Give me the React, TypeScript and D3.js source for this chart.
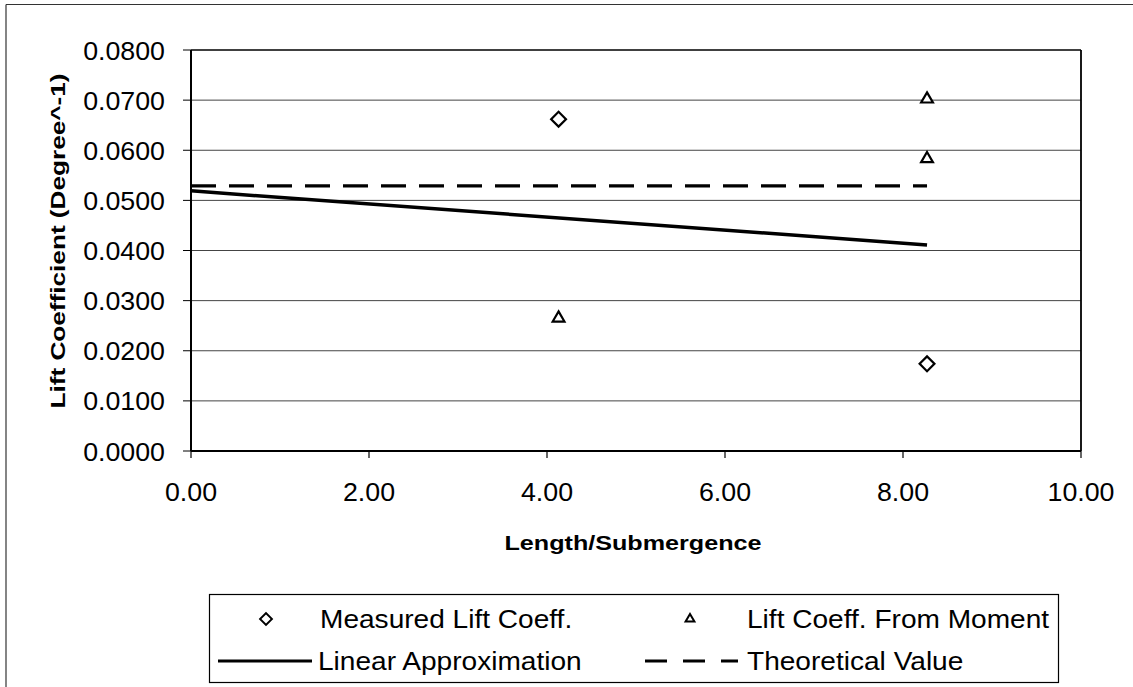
import { useEffect } from 'react';
import * as d3 from 'd3';

// values
const xTicks = [0, 2, 4, 6, 8, 10];
const yTicks = [0, 0.01, 0.02, 0.03, 0.04, 0.05, 0.06, 0.07, 0.08];
const measuredX = [4.13, 8.27];
const measuredY = [0.0662, 0.0174];
const momentX = [4.13, 8.27, 8.27];
const momentY = [0.0265, 0.0702, 0.0583];
const linearX = [0, 8.27];
const linearY = [0.0519, 0.0411];
const theoryX = [0, 8.27];
const theoryY = [0.0529, 0.0529];

const W = 1133;
const H = 687;
const FONT = '"Liberation Sans", Arial, sans-serif';

function T({ x, y, anchor = 'start', size = 26, sx = 1.03, children }:
  { x: number; y: number; anchor?: string; size?: number; sx?: number; children: string }) {
  return (
    <text transform={`translate(${x},${y}) scale(${sx},1)`} textAnchor={anchor} fontSize={size} fontFamily={FONT} fill="#000">
      {children}
    </text>
  );
}

export default function App() {
  useEffect(() => {
    document.body.style.margin = '0';
  }, []);

  const x = d3.scaleLinear().domain([0, 10]).range([191, 1081]);
  const y = d3.scaleLinear().domain([0, 0.08]).range([451, 50]);

  const pts = (xs: number[], ys: number[]) => xs.map((v, i) => [v, ys[i]] as [number, number]);
  const line = d3.line<[number, number]>().x((d) => x(d[0])).y((d) => y(d[1]));

  const diamond = d3.symbol().type(d3.symbolSquare).size(110)()!;
  const triangle = d3.symbol().type(d3.symbolTriangle).size(60)()!;
  const triangleSmall = d3.symbol().type(d3.symbolTriangle).size(34)()!;

  const [x0, x1] = x.range();
  const [yb, yt] = y.range();

  return (
    <svg width={W} height={H} style={{ display: 'block', background: '#fff' }}>
      {/* outer chart border (left and top visible) */}
      <line x1={6} y1={4.5} x2={W} y2={4.5} stroke="#333" strokeWidth={1.2} />
      <line x1={6} y1={4.5} x2={6} y2={H} stroke="#333" strokeWidth={1.2} />

      {/* gridlines */}
      {yTicks.slice(1, -1).map((t) => (
        <line key={t} x1={x0} x2={x1} y1={y(t)} y2={y(t)} stroke="#444" strokeWidth={1} />
      ))}

      {/* plot frame */}
      <line x1={x0} x2={x1} y1={yt} y2={yt} stroke="#000" strokeWidth={1.5} />
      <line x1={x1} x2={x1} y1={yt} y2={yb} stroke="#000" strokeWidth={1.8} />
      <line x1={x0} x2={x0} y1={yt} y2={yb} stroke="#000" strokeWidth={2} />
      <line x1={x0} x2={x1} y1={yb} y2={yb} stroke="#000" strokeWidth={2} />

      {/* y ticks + labels */}
      {yTicks.map((t) => (
        <g key={t}>
          <line x1={x0 - 8} x2={x0} y1={y(t)} y2={y(t)} stroke="#000" strokeWidth={1} />
          <T x={165} y={y(t) + 9.5} anchor="end">{d3.format('.4f')(t)}</T>
        </g>
      ))}

      {/* x ticks + labels */}
      {xTicks.map((t) => (
        <g key={t}>
          <line x1={x(t)} x2={x(t)} y1={yb} y2={yb + 7} stroke="#000" strokeWidth={1.2} />
          <T x={x(t)} y={501} anchor="middle">{d3.format('.2f')(t)}</T>
        </g>
      ))}

      {/* axis titles */}
      <text x={633} y={550} textAnchor="middle" fontSize={21} fontWeight="bold" fontFamily={FONT}
        textLength={257} lengthAdjust="spacingAndGlyphs">Length/Submergence</text>
      <text transform="translate(65,241) rotate(-90)" textAnchor="middle" fontSize={21} fontWeight="bold" fontFamily={FONT}
        textLength={335} lengthAdjust="spacingAndGlyphs">Lift Coefficient (Degree^-1)</text>

      {/* series */}
      <path d={line(pts(theoryX, theoryY))!} fill="none" stroke="#000" strokeWidth={3.2} strokeDasharray="25,13" />
      <path d={line(pts(linearX, linearY))!} fill="none" stroke="#000" strokeWidth={3.5} />
      {pts(measuredX, measuredY).map((d, i) => (
        <path key={`m${i}`} d={diamond} transform={`translate(${x(d[0])},${y(d[1])}) rotate(45)`} fill="#fff" stroke="#000" strokeWidth={2.2} />
      ))}
      {pts(momentX, momentY).map((d, i) => (
        <path key={`t${i}`} d={triangle} transform={`translate(${x(d[0])},${y(d[1])})`} fill="#fff" stroke="#000" strokeWidth={2.2} />
      ))}

      {/* legend */}
      <rect x={209.5} y={594.5} width={849} height={88} fill="#fff" stroke="#000" strokeWidth={1.2} />
      <path d={diamond} transform="translate(266,619) rotate(45) scale(0.8)" fill="#fff" stroke="#000" strokeWidth={2.4} />
      <T x={320} y={628} sx={1.08}>Measured Lift Coeff.</T>
      <path d={triangleSmall} transform="translate(690,619)" fill="#fff" stroke="#000" strokeWidth={2} />
      <T x={747} y={628} sx={1.08}>Lift Coeff. From Moment</T>
      <line x1={218} x2={312} y1={661} y2={661} stroke="#000" strokeWidth={3} />
      <T x={318} y={670} sx={1.08}>Linear Approximation</T>
      <line x1={645} x2={738} y1={661} y2={661} stroke="#000" strokeWidth={3} strokeDasharray="22,16" />
      <T x={747} y={670} sx={1.08}>Theoretical Value</T>
    </svg>
  );
}
